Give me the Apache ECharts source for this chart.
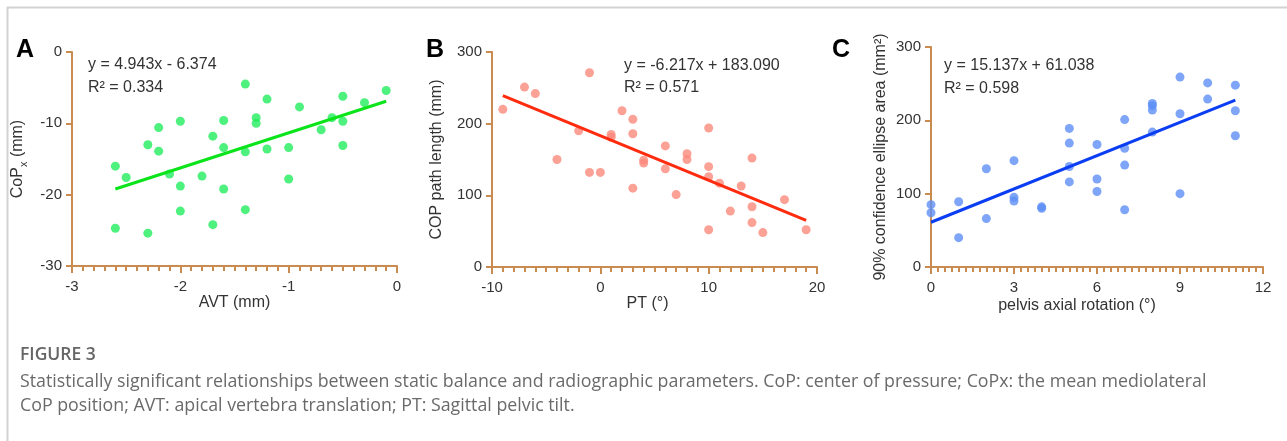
<!DOCTYPE html>
<html style="height: 100%">
<head>
    <meta charset="utf-8">
    <script type="text/javascript" src="https://cdn.jsdelivr.net/npm/echarts/dist/echarts.min.js"></script>
</head>
<body style="height: 100%; margin: 0; background: #fff">
    <div id="container" style="width: 1287px; height: 441px"></div>
    <script type="text/javascript">

// Panel A: AVT vs CoPx
var avtX = [-2.6, -2.6, -2.5, -2.3, -2.3, -2.2, -2.2, -2.1, -2.0, -2.0, -2.0, -1.8,
    -1.7, -1.7, -1.6, -1.6, -1.6, -1.4, -1.4, -1.4, -1.3, -1.3, -1.2, -1.2,
    -1.0, -1.0, -0.9, -0.7, -0.6, -0.5, -0.5, -0.5, -0.3, -0.1];
var copxY = [-16.0, -24.7, -17.6, -13.0, -25.4, -10.6, -13.9, -17.1, -9.7, -18.8, -22.3, -17.4,
    -11.8, -24.2, -9.6, -13.4, -19.2, -4.5, -14.0, -22.1, -9.2, -10.0, -6.6, -13.6,
    -13.4, -17.8, -7.7, -10.9, -9.2, -6.2, -9.7, -13.1, -7.1, -5.4];
// fitted line end points
var fitA = [[-2.6, -19.2], [-0.1, -6.9]];

// Panel B: PT vs COP path length
var ptX = [-9, -7, -6, -4, -2, -1, -1, 0, 1, 1, 2, 3, 3, 3, 4, 4, 6, 6, 7, 8, 8,
    10, 10, 10, 10, 11, 12, 13, 14, 14, 14, 15, 17, 19];
var pathY = [220, 251, 242, 150, 190, 271, 132, 132, 185, 181, 218, 206, 186, 110, 149, 145, 169, 137, 101, 158, 150,
    194, 140, 126, 52, 117, 78, 113, 152, 84, 62, 48, 94, 52];
var fitB = [[-9, 239], [19, 65]];

// Panel C: pelvis axial rotation vs ellipse area
var rotX = [0, 0, 1, 1, 2, 2, 3, 3, 3, 4, 4, 5, 5, 5, 5, 6, 6, 6, 7, 7, 7, 7,
    8, 8, 8, 8, 9, 9, 9, 10, 10, 11, 11, 11];
var areaY = [85, 74, 89, 40, 134, 66, 145, 95, 90, 82, 80, 189, 169, 137, 116, 167, 120, 103, 201, 162, 139, 78,
    223, 220, 214, 184, 259, 209, 100, 251, 229, 248, 213, 179];
var fitC = [[0, 61], [11, 227.5]];

var axisColor = '#c98b4f';
var font = 'Arial, "Liberation Sans", sans-serif';

function pairs(xs, ys) {
    return xs.map(function (x, i) { return [x, ys[i]]; });
}

// x axis with brown line and minor ticks below it
function makeX(idx, min, max, interval, minorSplit, name, gap, shift) {
    return {
        gridIndex: idx, type: 'value', min: min, max: max, interval: interval,
        name: name, nameLocation: 'middle', nameGap: gap,
        nameTextStyle: { color: '#333', fontSize: 16, fontFamily: font, padding: [0, shift, 0, 0] },
        axisLine: { onZero: false, lineStyle: { color: axisColor, width: 2 } },
        axisTick: { length: 7, lineStyle: { color: axisColor, width: 2 } },
        minorTick: { show: true, splitNumber: minorSplit, length: 5, lineStyle: { color: axisColor, width: 2 } },
        axisLabel: { color: '#333', fontSize: 15, fontFamily: font, margin: 13 },
        splitLine: { show: false }
    };
}

function makeY(idx, min, max, interval, name, gap) {
    return {
        gridIndex: idx, type: 'value', min: min, max: max, interval: interval,
        name: name, nameLocation: 'middle', nameGap: gap,
        nameTextStyle: {
            color: '#333', fontSize: 16, fontFamily: font, lineHeight: 22,
            rich: { s: { fontSize: 11, fontFamily: font, color: '#333', verticalAlign: 'bottom' } }
        },
        axisLine: { onZero: false, lineStyle: { color: axisColor, width: 2 } },
        axisTick: { length: 6, lineStyle: { color: axisColor, width: 2 } },
        axisLabel: { color: '#333', fontSize: 15, fontFamily: font, margin: 10 },
        splitLine: { show: false }
    };
}

function dots(idx, data, color) {
    return {
        type: 'scatter', xAxisIndex: idx, yAxisIndex: idx, data: data,
        symbolSize: 9, itemStyle: { color: color }, silent: true
    };
}

function fit(idx, data, color) {
    return {
        type: 'line', xAxisIndex: idx, yAxisIndex: idx, data: data,
        showSymbol: false, silent: true, z: 3,
        lineStyle: { color: color, width: 3 }
    };
}

function txt(x, y, s, size, weight) {
    return {
        type: 'text', left: x, top: y,
        style: { text: s, fill: weight ? '#000' : '#333', font: (weight || 'normal') + ' ' + size + 'px ' + font }
    };
}

var capFont = '"Open Sans", sans-serif';

var myChart = echarts.init(document.getElementById('container'));

var option = {
    animation: false,
    grid: [
        { left: 72, top: 52, width: 325, height: 214 },
        { left: 492, top: 52, width: 325, height: 215 },
        { left: 931, top: 47, width: 332, height: 220 }
    ],
    xAxis: [
        makeX(0, -3, 0, 1, 10, 'AVT (mm)', 23, 0),
        makeX(1, -10, 20, 10, 10, 'PT (°)', 23, 14),
        makeX(2, 0, 12, 3, 12, 'pelvis axial rotation (°)', 31, 40)
    ],
    yAxis: [
        makeY(0, -30, 0, 10, 'CoP{s|x} (mm)', 43),
        makeY(1, 0, 300, 100, 'COP path length (mm)', 44),
        makeY(2, 0, 300, 100, '90% confidence ellipse area (mm²)', 38)
    ],
    series: [
        dots(0, pairs(avtX, copxY), '#22ec5e'),
        fit(0, fitA, '#0be41a'),
        dots(1, pairs(ptX, pathY), '#fb8a7c'),
        fit(1, fitB, '#ff2b0e'),
        dots(2, pairs(rotX, areaY), '#5e8ff6'),
        fit(2, fitC, '#0b3ef2')
    ],
    graphic: [
        // light frame, top and left
        { type: 'line', shape: { x1: 7, y1: 7.5, x2: 1287, y2: 7.5 }, style: { stroke: '#d2d2d2', lineWidth: 2 } },
        { type: 'line', shape: { x1: 7.5, y1: 7, x2: 7.5, y2: 441 }, style: { stroke: '#d2d2d2', lineWidth: 2 } },
        // panel letters
        txt(16, 38, 'A', 25, 'bold'),
        txt(426, 38, 'B', 25, 'bold'),
        txt(832, 38, 'C', 25, 'bold'),
        // regression equations
        txt(88, 57, 'y = 4.943x - 6.374', 16),
        txt(88, 80, 'R² = 0.334', 16),
        txt(624, 58, 'y = -6.217x + 183.090', 16),
        txt(624, 80, 'R² = 0.571', 16),
        txt(944, 58, 'y = 15.137x + 61.038', 16),
        txt(944, 81, 'R² = 0.598', 16),
        // caption
        { type: 'text', left: 20, top: 346, style: { text: 'FIGURE 3', fill: '#666', font: '600 17.5px ' + capFont } },
        { type: 'text', left: 20, top: 373, style: { text: 'Statistically significant relationships between static balance and radiographic parameters. CoP: center of pressure; CoPx: the mean mediolateral', fill: '#6a6a6a', font: '17.8px ' + capFont } },
        { type: 'text', left: 20, top: 397, style: { text: 'CoP position; AVT: apical vertebra translation; PT: Sagittal pelvic tilt.', fill: '#6a6a6a', font: '17.8px ' + capFont } }
    ]
};

myChart.setOption(option);
    </script>
</body>
</html>
